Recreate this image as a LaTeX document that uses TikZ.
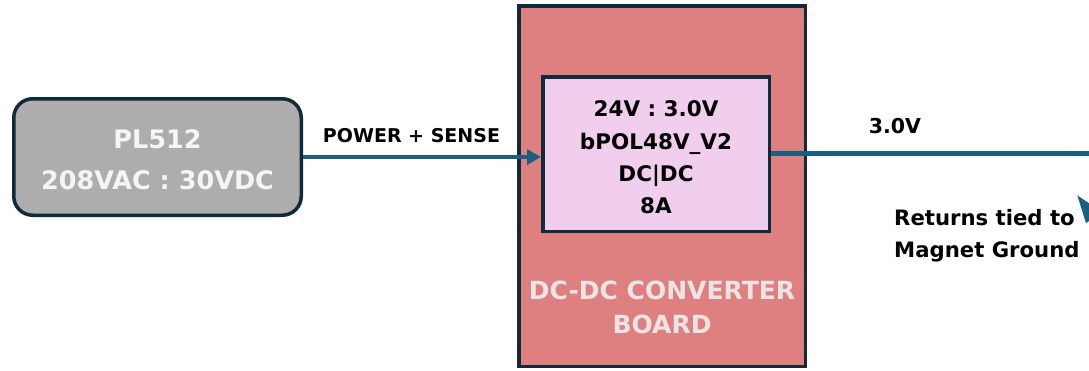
\documentclass[tikz,border=0pt]{standalone}
\usepackage{fontspec}
\setmainfont{DejaVu Sans}
\usetikzlibrary{arrows.meta}
\definecolor{boardred}{RGB}{223,128,128}
\definecolor{chippink}{RGB}{242,206,238}
\definecolor{psgrey}{RGB}{173,173,173}
\definecolor{edgenavy}{RGB}{14,42,59}
\definecolor{wireblue}{RGB}{26,94,128}
\definecolor{boardtext}{RGB}{236,228,228}
\tikzset{
  blockbox/.style={draw=edgenavy, line width=3.5pt, inner sep=0pt, align=center},
  wire/.style={draw=wireblue, line width=4.5pt},
  wirearrow/.style={wire, -{Triangle[length=14pt,width=15pt]}},
  lbl/.style={font=\bfseries\fontsize{19}{22}\selectfont, text=black, inner sep=0pt}
}
\begin{document}
\begin{tikzpicture}[x=1pt,y=-1pt]
\useasboundingbox (0,0) rectangle (1089,370);
\clip (0,0) rectangle (1089,370);
% outer board
\node[blockbox, fill=boardred, minimum width=286.5pt, minimum height=360.5pt] (board) at (662,186) {};
\node[font=\bfseries\fontsize{25}{34}\selectfont, text=boardtext, align=center] (boardlbl) at (662,307.5) {DC-DC CONVERTER\\BOARD};
% inner converter
\node[blockbox, fill=chippink, minimum width=226.5pt, minimum height=154.5pt] (conv) at (656,154) {};
\node[font=\bfseries\fontsize{21.5}{32.3}\selectfont, align=center] (convlbl) at (656,157.5) {24V : 3.0V\\bPOL48V\_V2\\DC|DC\\8A};
% PL512
\node[blockbox, fill=psgrey, rounded corners=19pt, minimum width=287.5pt, minimum height=116.5pt] (pl) at (157.5,157) {};
\node[font=\bfseries\fontsize{25.5}{40.5}\selectfont, text=white!96!black, align=center] (pllbl) at (157.5,159.5) {PL512\\208VAC : 30VDC};
% connectors
\draw[wirearrow] (pl.east) -- (pl.east -| conv.west);
\node[lbl] (pslbl) at (411.5,136) {POWER + SENSE};
\coordinate (outend) at (1095,153.5);
\draw[wire, line width=5pt] (conv.east |- outend) -- (outend);
\node[lbl, font=\bfseries\fontsize{20.5}{24}\selectfont] (vlbl) at (895,126) {3.0V};
\coordinate (retstart) at (1125,259);
\coordinate (rettip) at (1077,195);
\draw[wire, -{Triangle[length=28pt,width=18pt]}] (retstart) -- (rettip);
\node[anchor=west, align=left, inner sep=0pt, font=\bfseries\fontsize{21.2}{32}\selectfont] (retlbl) at (894,236) {Returns tied to\\Magnet Ground};
\end{tikzpicture}
\end{document}
